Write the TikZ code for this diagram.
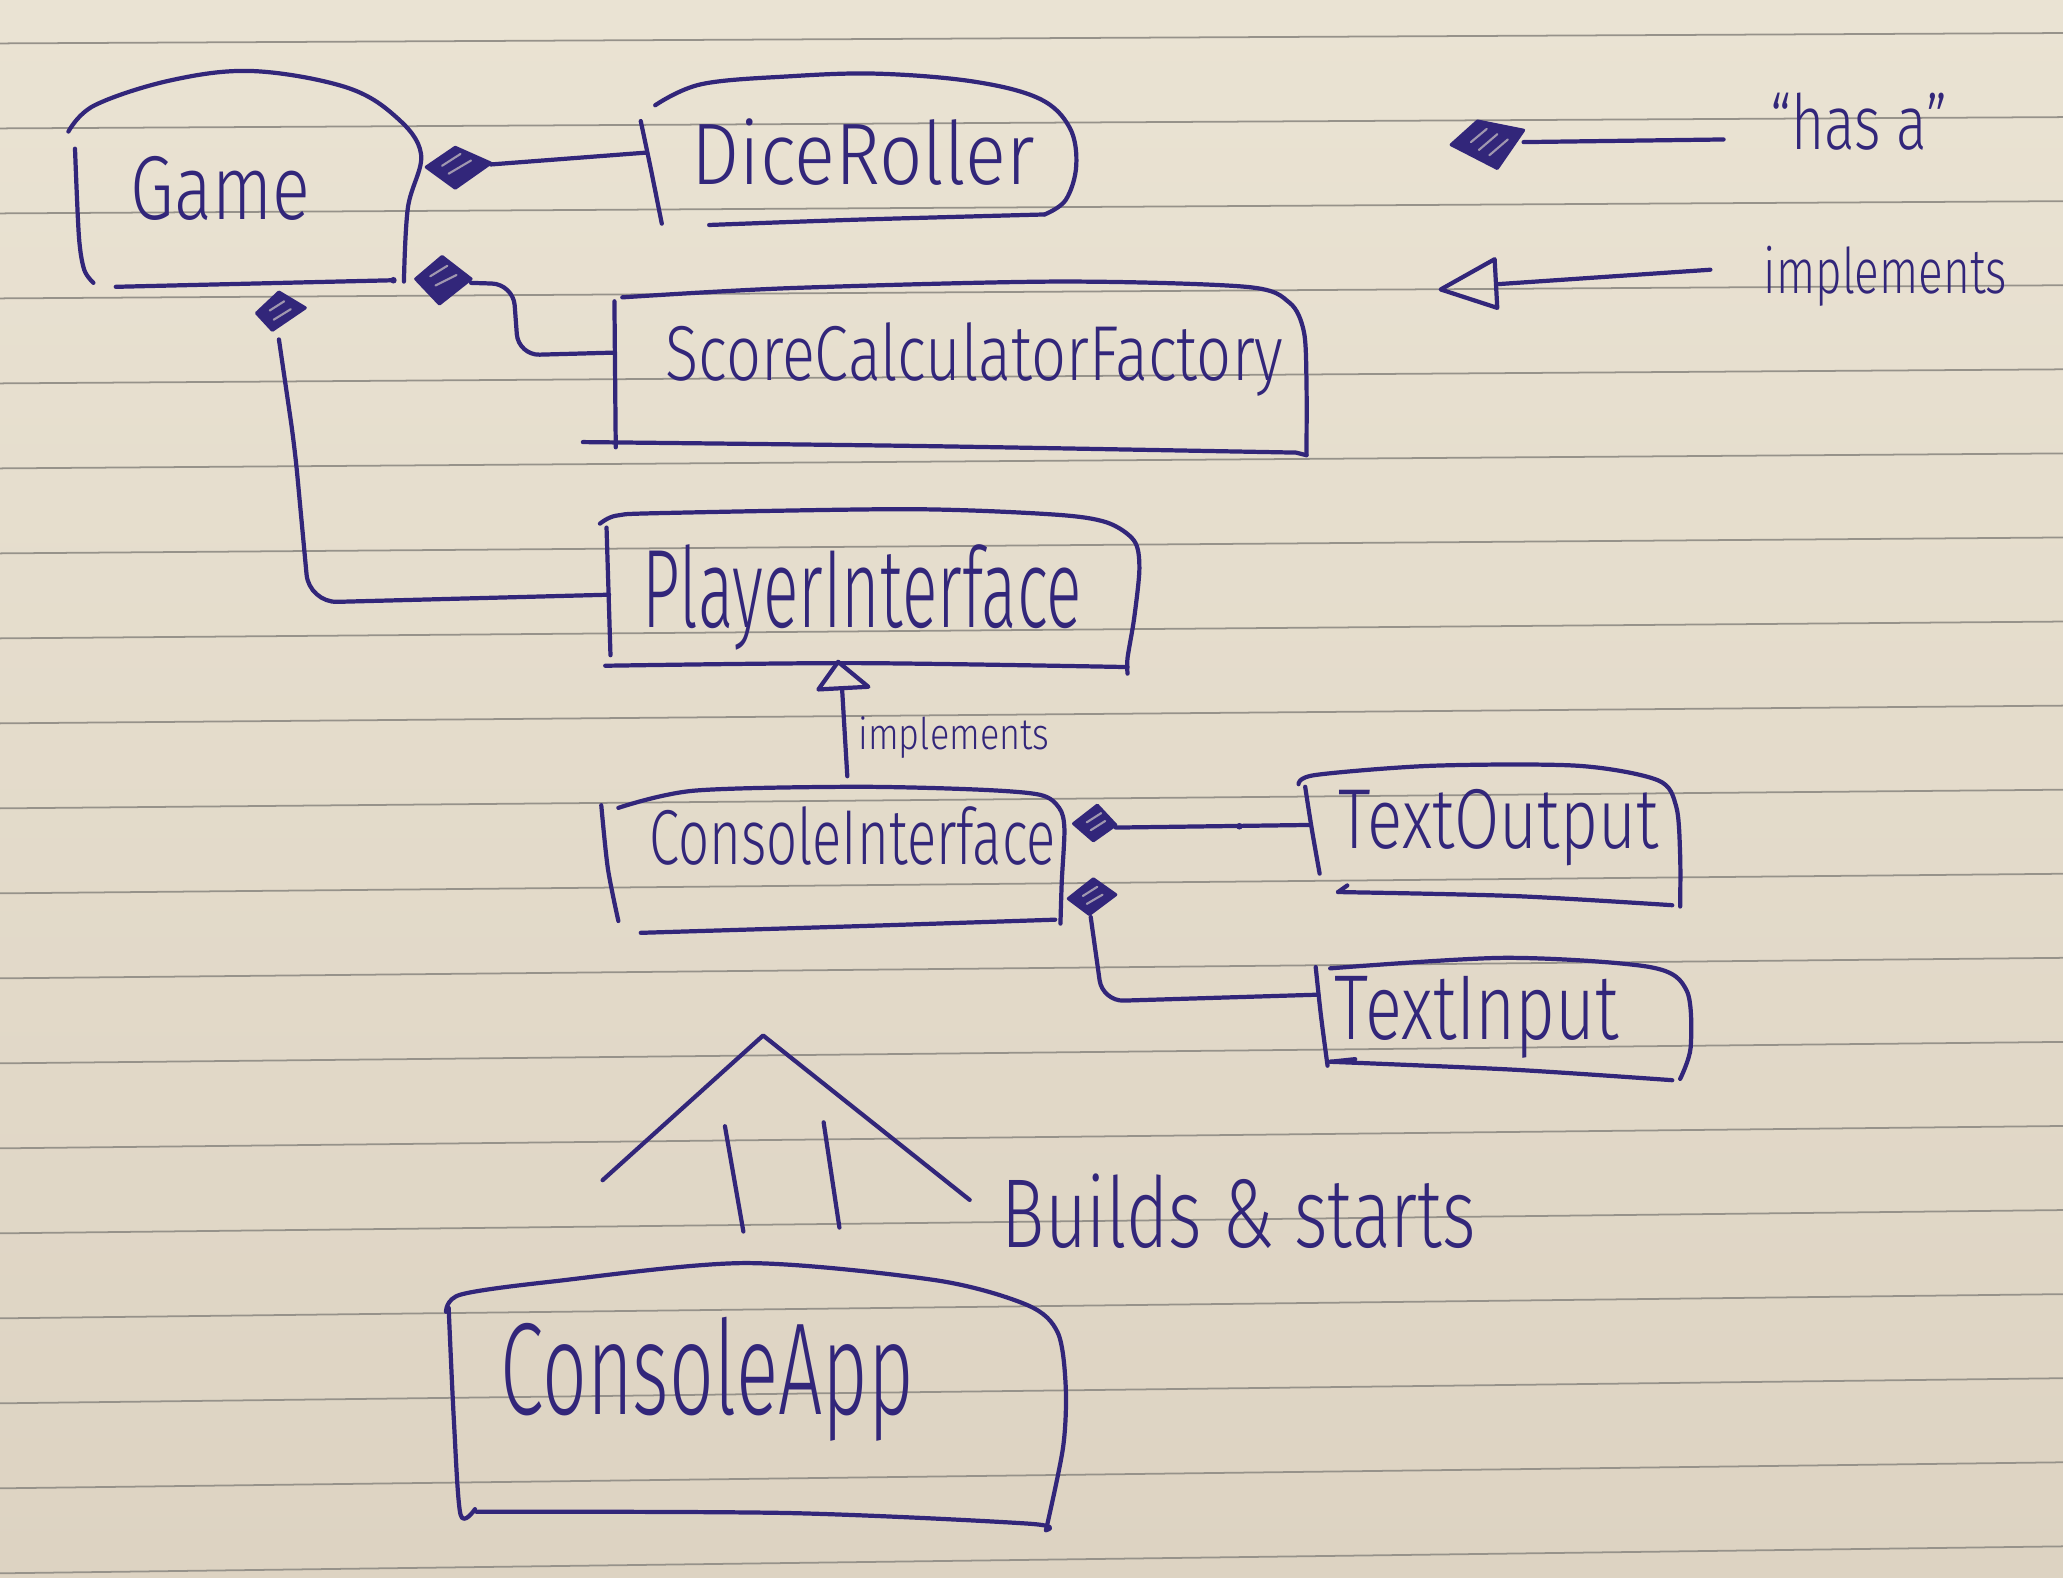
\documentclass[tikz,border=0pt]{standalone}
\usepackage{fontspec}
\usepackage{graphicx}
\newfontfamily\hand{Fira Sans}[UprightFont={* Light}]
\newlength\pxu \setlength\pxu{0.13157mm}
\definecolor{ink}{RGB}{50,38,122}
\definecolor{papertop}{RGB}{234,227,211}
\definecolor{paperbot}{RGB}{221,211,194}
\definecolor{rule}{RGB}{150,146,138}
\newcommand\hw[3]{\resizebox{#1\pxu}{#2\pxu}{\hand #3}}
\begin{document}
\begin{tikzpicture}[x=0.13157mm,y=-0.13157mm,
  pen/.style={draw=ink,line width=1.2pt,line cap=round,line join=round},
  txt/.style={inner sep=0pt,anchor=base west,text=ink},
  dia/.style={fill=ink,draw=ink,line width=0.9pt,line join=round},
  hatch/.style={draw=ink!40!papertop,line width=0.6pt,line cap=round}]
\useasboundingbox (0,0) rectangle (1568,1199);
\shade[top color=papertop,bottom color=paperbot] (0,0) rectangle (1568,1199);
% ruled paper
\foreach \k in {0,...,18}{
  \draw[rule,line width=0.5pt] (0,{33+64.6*\k}) -- (1568,{25.1+63.9*\k});
}
% ---------- texts ----------
\node[txt] (game) at (99,167) {\hw{136}{48}{Game}};
\node[txt] (dice) at (525,140) {\hw{261}{50}{DiceRoller}};
\node[txt] (scf) at (505,289) {\hw{470}{44}{ScoreCalculatorFactory}};
\node[txt] (pi) at (488,477) {\hw{334}{63}{PlayerInterface}};
\node[txt] (ci) at (493,657) {\hw{309}{44}{ConsoleInterface}};
\node[txt] (tout) at (1017,645) {\hw{243}{45}{TextOutput}};
\node[txt] (tin) at (1014,790) {\hw{216}{48}{TextInput}};
\node[txt] (app) at (380,1075) {\hw{314}{74}{ConsoleApp}};
\node[txt] (builds) at (761,948) {\hw{360}{56}{Builds \& starts}};
\node[txt] (hasa) at (1345,114) {\hw{135}{43}{“has a”}};
\node[txt] (impl) at (1340,223) {\hw{185}{36}{implements}};
\node[txt] (impl2) at (652,570) {\hw{145}{25}{implements}};
% ---------- Game ----------
\draw[pen] plot[smooth,tension=0.6] coordinates {(52,100) (72,80) (130,61) (192,54) (262,66) (300,88) (320,117) (310,158) (307,214)};
\draw[pen] plot[smooth] coordinates {(57,113) (60,180) (64,205) (71,215)};
\draw[pen] (88,218) -- (299,213);
\fill[ink] (299,213) circle (2.5);
% ---------- DiceRoller ----------
\draw[pen] plot[smooth] coordinates {(487,92) (495,130) (503,170)};
\draw[pen] plot[smooth,tension=0.6] coordinates {(498,80) (533,64) (600,58) (667,56) (740,62) (790,75) (813,97) (818,126) (810,152) (794,163)};
\draw[pen] plot[smooth] coordinates {(539,171) (650,167) (794,163)};
% ---------- ScoreCalculatorFactory ----------
\draw[pen] (467,229) -- (468,340);
\draw[pen] plot[smooth,tension=0.5] coordinates {(473,226) (600,219) (804,214) (947,218) (980,230) (991,252) (993,290) (993,346)};
\draw[pen] plot[smooth] coordinates {(443,336) (700,339) (985,344)} -- (993,346);
% ---------- PlayerInterface ----------
\draw[pen] plot[smooth] coordinates {(456,398) (468,392) (501,390) (690,387) (800,391) (841,397) (862,411) (866,432) (862,470) (857,500) (857,512)};
\draw[pen] (461,401) -- (464,498);
\draw[pen] plot[smooth] coordinates {(460,506) (650,504) (857,507)};
% ---------- ConsoleInterface ----------
\draw[pen] plot[smooth] coordinates {(457,612) (462,660) (470,700)};
\draw[pen] plot[smooth] coordinates {(470,614) (527,601) (647,598) (740,600) (790,604) (805,614) (809,630) (807,670) (806,702)};
\draw[pen] plot[smooth] coordinates {(487,709) (650,704) (802,699)};
% ---------- TextOutput ----------
\draw[pen] plot[smooth] coordinates {(992,598) (997,630) (1003,664)};
\draw[pen] plot[smooth] coordinates {(987,596) (1000,589) (1089,582) (1199,582) (1260,593) (1274,613) (1277,650) (1277,689)};
\draw[pen] plot[smooth] coordinates {(1017,678) (1150,681) (1271,688)};
\draw[pen] (1017,678) -- (1024,673);
% ---------- TextInput ----------
\draw[pen] plot[smooth] coordinates {(1000,735) (1004,772) (1009,810)};
\draw[pen] plot[smooth] coordinates {(1011,736) (1144,728) (1254,735) (1282,753) (1285,796) (1277,820)};
\draw[pen] plot[smooth] coordinates {(1011,807) (1150,813) (1271,821)};
\draw[pen] (1011,807) -- (1030,805);
% ---------- ConsoleApp ----------
\draw[pen] plot[smooth] coordinates {(339,997) (350,984) (420,974) (566,960) (711,973) (781,992) (804,1013) (810,1054) (808,1100) (795,1163)};
\draw[pen] plot[smooth] coordinates {(341,994) (345,1080) (350,1151) (361,1147)};
\draw[pen] plot[smooth] coordinates {(362,1149) (600,1150) (781,1158) (795,1163)};
% ---------- diamonds (has-a) ----------
\draw[dia] (324,127) -- (346,112) -- (373,124) -- (346,143) -- cycle;
\draw[hatch] (336,126) -- (350,117) (341,132) -- (358,122);
\draw[dia] (316,212) -- (336,195) -- (358,212) -- (334,231) -- cycle;
\draw[hatch] (327,210) -- (340,202) (331,217) -- (347,209);
\draw[dia] (195,238) -- (212,222) -- (232,234) -- (207,251) -- cycle;
\draw[hatch] (205,236) -- (216,229) (208,243) -- (221,235);
\draw[dia] (816,626) -- (834,612) -- (848,627) -- (831,639) -- cycle;
\draw[hatch] (826,625) -- (837,618) (829,631) -- (840,624);
\draw[dia] (812,683) -- (831,668) -- (848,680) -- (828,695) -- cycle;
\draw[hatch] (823,681) -- (834,674) (826,687) -- (838,680);
% connector end points
\coordinate (g-d1) at (373,125);
\coordinate (dr-in) at (491,116);
\coordinate (g-d2) at (358,215);
\coordinate (scf-in) at (467,268);
\coordinate (g-d3) at (212,258);
\coordinate (pi-in) at (463,452);
\coordinate (ci-d1) at (848,629);
\coordinate (to-in) at (996,627);
\coordinate (ci-d2) at (829,697);
\coordinate (ti-in) at (1002,756);
\coordinate (ci-top) at (644,590);
\coordinate (pi-bot) at (637,503);
% ---------- connectors ----------
\draw[pen] (g-d1) -- (dr-in);
\draw[pen,rounded corners=6] (g-d2) -- (390,216) -- (394,270) -- (scf-in);
\draw[pen,rounded corners=8] (g-d3) -- (224,340) -- (235,458) -- (pi-in);
\draw[pen] (ci-d1) -- (to-in);
\fill[ink] (942,628) circle (2.5);
\draw[pen,rounded corners=6] (ci-d2) -- (838,761) -- (ti-in);
\draw[pen] (ci-top) -- (640,523);
\draw[pen] (pi-bot) -- (622,524) -- (660,522) -- cycle;
% ---------- builds & starts ----------
\coordinate (apex) at (580,787);
\draw[pen] (458,897) -- (apex) -- (737,912);
\draw[pen] (551,856) -- (565,936);
\draw[pen] (626,853) -- (638,933);
% ---------- legend ----------
\draw[dia] (1103,110) -- (1123,92) -- (1158,99) -- (1138,128) -- cycle;
\draw[hatch] (1118,108) -- (1130,98) (1124,114) -- (1138,102) (1132,118) -- (1146,106);
\coordinate (lg-d) at (1158,108);
\coordinate (lg-e) at (1310,106);
\draw[pen] (lg-d) -- (lg-e);
\draw[pen] (1095,220) -- (1136,197) -- (1138,234) -- cycle;
\coordinate (lg-t) at (1138,216);
\coordinate (lg-f) at (1300,205);
\draw[pen] (lg-t) -- (lg-f);
\end{tikzpicture}
\end{document}
